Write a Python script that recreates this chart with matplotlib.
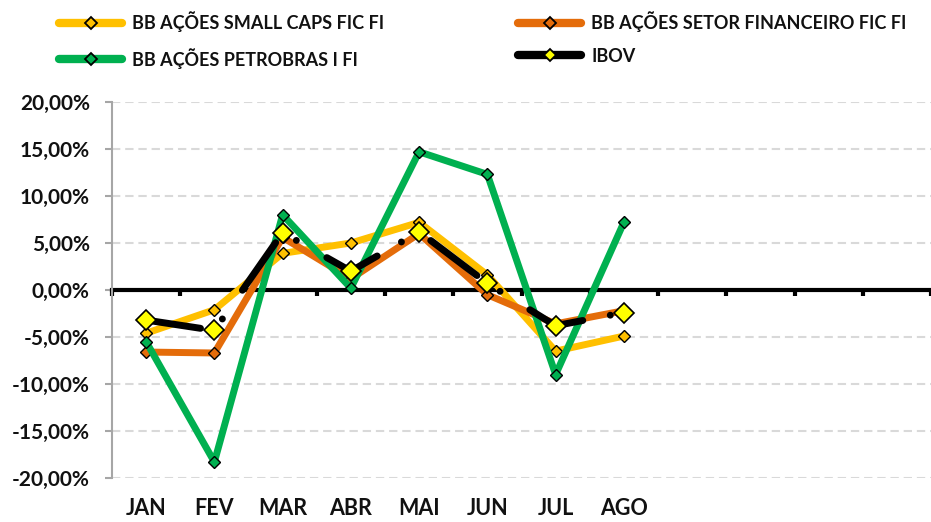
import numpy as np
import matplotlib
matplotlib.use("Agg")
import matplotlib.pyplot as plt
from matplotlib.lines import Line2D
from matplotlib.ticker import FuncFormatter
import matplotlib.transforms as mtransforms

# ---------------- data ----------------
months = ["JAN", "FEV", "MAR", "ABR", "MAI", "JUN", "JUL", "AGO"]
n_slots = 12
small_caps = [-4.6, -2.1, 3.9, 5.0, 7.2, 1.6, -6.5, -4.9]
setor_fin = [-6.6, -6.7, 5.6, 1.2, 6.0, -0.5, -3.6, -2.2]
petrobras = [-5.5, -18.3, 8.0, 0.2, 14.7, 12.3, -9.0, 7.2]
ibov = [-3.2, -4.3, 6.1, 2.0, 6.2, 0.7, -3.8, -2.4]
labels = ["BB AÇÕES SMALL CAPS FIC FI", "BB AÇÕES SETOR FINANCEIRO FIC FI",
          "BB AÇÕES PETROBRAS I FI", "IBOV"]
yticks = [-20, -15, -10, -5, 0, 5, 10, 15, 20]

C_SC = "#FFC000"
C_SF = "#E46C0A"
C_PB = "#00B050"
C_IB = "#000000"
C_IBM = "#FFFF00"

plt.rcParams["lines.scale_dashes"] = False
FONT = ["Lato", "DejaVu Sans"]
plt.rcParams["font.family"] = FONT

W, H = 931, 522
fig = plt.figure(figsize=(W / 100, H / 100), dpi=100)
left = 112 / W
bottom = (H - 478) / H
height = 376 / H
ax = fig.add_axes([left, bottom, 1 - left, height])

x = np.arange(len(months))
slot = 68.33
ax.set_xlim(-0.5, -0.5 + (W - 112) / slot)
ax.set_ylim(-20, 20)

for yv in yticks:
    if yv != 0:
        ax.axhline(yv, color="#D9D9D9", lw=1.5, ls=(0, (6, 3.5)), zorder=1)

for s in ["top", "right"]:
    ax.spines[s].set_visible(False)
ax.spines["left"].set_color("#A6A6A6")
ax.spines["left"].set_linewidth(1.5)
ax.spines["bottom"].set_position(("data", 0))
ax.spines["bottom"].set_color("black")
ax.spines["bottom"].set_linewidth(3)
ax.spines["bottom"].set_zorder(2)

ax.set_xticks(np.arange(-0.5, n_slots, 1))
ax.tick_params(axis="x", length=4, width=3, color="black", labelbottom=False, direction="out")
ax.set_yticks(yticks)
ax.yaxis.set_major_formatter(FuncFormatter(lambda v, p: f"{v:.2f}%".replace(".", ",")))
ax.tick_params(axis="y", length=5, width=1.5, color="#A6A6A6", pad=11)
for lab in ax.get_yticklabels():
    lab.set_fontsize(15)
    lab.set_fontweight("bold")
    lab.set_color("#111111")

trans = mtransforms.blended_transform_factory(ax.transData, ax.transAxes)
for xi, m in zip(x, months):
    ax.text(xi, -0.08, m, transform=trans, ha="center", va="center",
            fontsize=15.5, fontweight="bold", color="#111111")

lw = 5
ax.plot(x, small_caps, color=C_SC, lw=lw, solid_capstyle="round", solid_joinstyle="round",
        marker="D", ms=6.5, mfc=C_SC, mec="black", mew=1.0, zorder=3)
ax.plot(x, setor_fin, color=C_SF, lw=lw, solid_capstyle="round", solid_joinstyle="round",
        marker="D", ms=6.5, mfc=C_SF, mec="black", mew=1.0, zorder=4)
ax.plot(x, petrobras, color=C_PB, lw=lw, solid_capstyle="round", solid_joinstyle="round",
        marker="D", ms=6.5, mfc=C_PB, mec="black", mew=1.0, zorder=5)
px = 0.72
ax.plot(x, ibov, color=C_IB, lw=lw, dash_capstyle="round", dash_joinstyle="round",
        ls=(3 * px, (58 * px, 28 * px, 0.01, 35 * px)), zorder=6)
ax.plot(x, ibov, ls="none", marker="D", ms=10.5, mfc=C_IBM, mec="black", mew=1.2, zorder=7)

def handle(col, mfc):
    return Line2D([], [], color=col, lw=6, solid_capstyle="round", marker="D", ms=6,
                  mfc=mfc, mec="black", mew=1.3)

LFS = 13.0
hs = [handle(C_SC, C_SC), handle(C_PB, C_PB), handle(C_SF, C_SF), handle(C_IB, C_IBM)]
ls_ = [labels[0], labels[2], labels[1], labels[3]]
leg = fig.legend(hs, ls_, ncol=2, loc="upper left", bbox_to_anchor=(43 / W, 1.01),
                 frameon=False, handlelength=3.5, handletextpad=0.55, columnspacing=7.4,
                 labelspacing=0.88, borderpad=0.4,
                 prop={"family": FONT, "weight": "bold", "size": LFS})
for t in leg.get_texts():
    t.set_color("#111111")

fig.savefig("out.png", dpi=100)
